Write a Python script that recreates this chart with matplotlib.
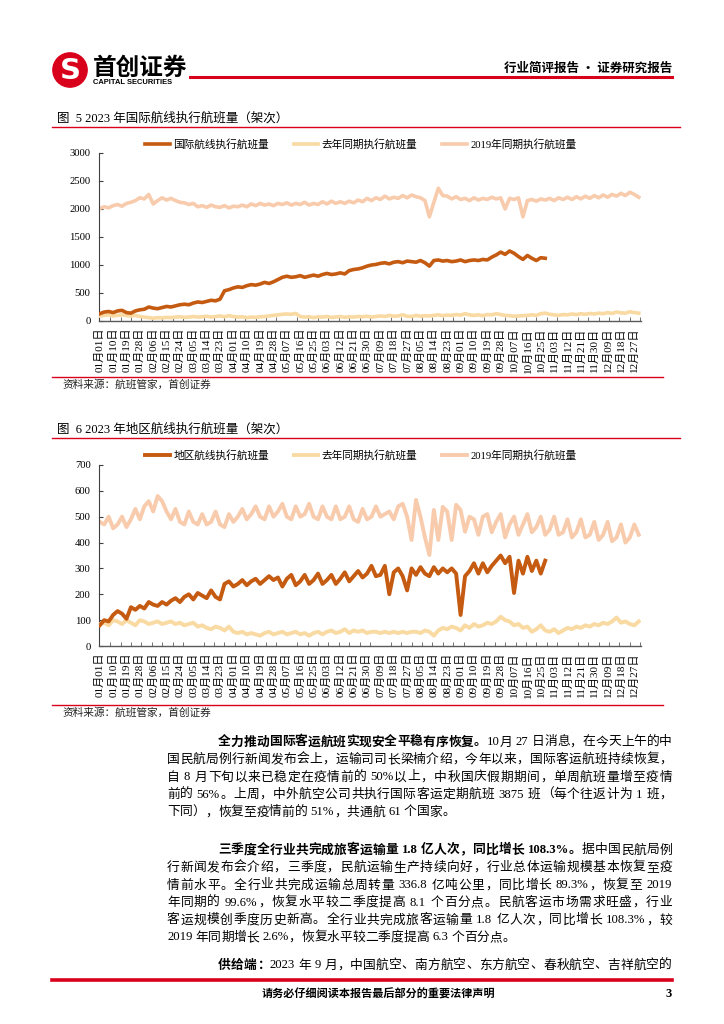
import re
import numpy as np
import pandas as pd
import matplotlib
matplotlib.use('Agg')
import matplotlib.pyplot as plt
from matplotlib.lines import Line2D
from matplotlib.patches import Circle

# ---- data ----
# sample every third day of the year, day 0 = 01月01日
days_full = np.arange(0, 364, 3)
days_2023 = np.arange(0, 301, 3)

# chart 5: international routes (flights)
intl_2023 = [130, 160, 170, 150, 180, 190, 150, 140, 180, 200,
             210, 250, 230, 220, 240, 260, 250, 270, 290, 300,
             290, 320, 340, 330, 350, 370, 360, 390, 540, 560,
             590, 610, 600, 630, 650, 640, 660, 690, 670, 700,
             740, 780, 800, 780, 790, 810, 780, 800, 820, 800,
             830, 850, 830, 840, 860, 840, 900, 920, 930, 950,
             980, 1000, 1010, 1030, 1040, 1020, 1050, 1060, 1040, 1070,
             1060, 1050, 1080, 1040, 980, 1080, 1090, 1070, 1080, 1060,
             1070, 1090, 1060, 1080, 1090, 1080, 1100, 1090, 1140, 1180,
             1230, 1190, 1250, 1210, 1150, 1100, 1170, 1120, 1080, 1130,
             1120]
intl_last = [90, 100, 110, 90, 100, 110, 95, 90, 100, 80,
             70, 60, 50, 60, 55, 65, 60, 70, 75, 65,
             70, 80, 70, 75, 85, 70, 80, 90, 75, 95,
             80, 70, 75, 60, 70, 65, 75, 80, 90, 100,
             110, 120, 125, 120, 135, 80, 70, 75, 60, 75,
             70, 80, 65, 70, 80, 65, 75, 70, 80, 75,
             85, 70, 80, 90, 80, 100, 85, 90, 110, 85,
             80, 100, 85, 95, 90, 100, 110, 95, 105, 100,
             115, 105, 130, 110, 100, 110, 95, 115, 110, 130,
             115, 100, 95, 85, 90, 95, 100, 110, 100, 130,
             140, 120, 110, 100, 115, 110, 125, 115, 130, 120,
             135, 125, 140, 130, 150, 135, 160, 145, 140, 165,
             150, 140]
intl_2019 = [2010, 2040, 2020, 2060, 2080, 2050, 2100, 2120, 2150, 2200,
             2180, 2260, 2090, 2150, 2200, 2160, 2190, 2150, 2120, 2110,
             2080, 2100, 2040, 2060, 2030, 2070, 2040, 2030, 2060, 2020,
             2050, 2040, 2070, 2040, 2090, 2060, 2100, 2070, 2090, 2060,
             2100, 2080, 2110, 2070, 2100, 2080, 2120, 2070, 2100, 2080,
             2130, 2090, 2140, 2100, 2130, 2100, 2140, 2110, 2160, 2130,
             2190, 2150, 2200, 2170, 2230, 2180, 2210, 2190, 2240, 2200,
             2250, 2220, 2200, 2150, 1860, 2120, 2370, 2240, 2230, 2180,
             2220, 2170, 2190, 2150, 2200, 2160, 2190, 2170, 2210, 2180,
             2200, 2000, 2190, 2170, 2200, 1860, 2150, 2170, 2140, 2180,
             2160, 2190, 2150, 2200, 2170, 2210, 2170, 2220, 2180, 2230,
             2190, 2240, 2200, 2250, 2210, 2260, 2230, 2280, 2240, 2300,
             2260, 2210]

# chart 6: regional routes (flights)
reg_2023 = [80, 100, 95, 120, 135, 125, 105, 150, 140, 155,
            145, 170, 160, 155, 170, 160, 175, 185, 170, 190,
            200, 180, 205, 195, 185, 215, 190, 180, 240, 250,
            230, 240, 255, 235, 250, 260, 240, 255, 270, 255,
            265, 230, 260, 275, 235, 250, 275, 240, 255, 280,
            240, 255, 275, 240, 260, 285, 250, 270, 290, 265,
            280, 310, 270, 275, 310, 200, 285, 300, 270, 215,
            300, 275, 305, 280, 270, 305, 280, 300, 285, 300,
            280, 120, 270, 290, 320, 280, 320, 285, 310, 330,
            350, 320, 345, 205, 330, 280, 345, 290, 330, 280,
            330]
reg_last = [85, 90, 80, 100, 95, 85, 100, 90, 80, 100,
            95, 85, 90, 95, 85, 90, 95, 85, 90, 80,
            85, 90, 75, 80, 70, 65, 75, 70, 60, 75,
            55, 50, 55, 45, 50, 45, 40, 50, 55, 45,
            50, 55, 45, 50, 55, 45, 50, 40, 50, 55,
            45, 55, 60, 50, 55, 65, 50, 60, 55, 60,
            50, 55, 55, 50, 55, 50, 55, 50, 55, 50,
            55, 55, 50, 60, 55, 40, 60, 70, 65, 75,
            70, 60, 80, 70, 85, 75, 80, 90, 85, 95,
            113, 100, 95, 80, 85, 70, 75, 55, 65, 80,
            60, 55, 65, 50, 60, 70, 65, 75, 70, 80,
            75, 85, 80, 90, 85, 95, 110, 90, 95, 85,
            80, 95]
reg_2019 = [480, 470, 500, 455, 470, 500, 460, 490, 530, 490,
            540, 560, 520, 580, 560, 520, 490, 530, 480, 470,
            520, 480, 470, 510, 470, 480, 520, 470, 460, 510,
            480, 500, 530, 490, 510, 540, 500, 490, 540, 500,
            520, 550, 500, 490, 540, 500, 510, 550, 500, 490,
            540, 500, 490, 540, 490, 500, 540, 490, 480, 530,
            490, 500, 540, 500, 510, 520, 490, 540, 550, 500,
            410, 565, 500, 420, 352, 526, 410, 538, 520, 410,
            546, 526, 442, 500, 490, 430, 500, 510, 440, 480,
            510, 420, 470, 500, 430, 470, 510, 440, 460, 500,
            430, 450, 500, 430, 440, 490, 420, 440, 490, 420,
            430, 480, 410, 430, 480, 405, 420, 470, 400, 420,
            470, 430]

# x tick labels every 9 days
label_days = np.arange(0, 361, 9)
label_text = [d.strftime('%m月%d日') for d in
              pd.Timestamp('2023-01-01') + pd.to_timedelta(label_days, unit='D')]

names_intl = ['国际航线执行航班量', '去年同期执行航班量', '2019年同期执行航班量']
names_reg = ['地区航线执行航班量', '去年同期执行航班量', '2019年同期执行航班量']

# ---- page ----
W, H = 724, 1024
fig = plt.figure(figsize=(W / 100, H / 100), dpi=100)
renderer = fig.canvas.get_renderer()

def fx(px):
    return px / W

def fy(py):
    return 1 - py / H

RED = '#D9001B'
CN = ['Noto Sans CJK SC', 'DejaVu Sans']
SERIF = ['Liberation Serif', 'Noto Sans CJK SC']
C2023, CLAST, C2019 = '#C55A11', '#F9DAA2', '#F8CBAD'


def hline(y, x0, x1, lw=1.0, color=RED):
    fig.add_artist(Line2D([fx(x0), fx(x1)], [fy(y), fy(y)],
                          transform=fig.transFigure, color=color, lw=lw))


# header
logo = fig.add_axes([fx(52), fy(88), fx(36), 36 / H])
logo.set_xlim(-1.05, 1.05)
logo.set_ylim(-1.05, 1.05)
logo.set_aspect('equal')
logo.axis('off')
logo.add_patch(Circle((0, 0), 1, color=RED))
logo.text(0.02, -0.05, 'S', color='white', fontsize=21, fontweight='bold',
          ha='center', va='center', family='DejaVu Sans')

fig.text(fx(93), fy(68), '首创证券', fontsize=17, fontweight='bold', family=CN,
         va='center', ha='left')
fig.text(fx(93), fy(83), 'CAPITAL SECURITIES', fontsize=5.4, fontweight='bold',
         family='Liberation Sans', va='center', ha='left')
hline(77, 190, 672, lw=2.2)
fig.text(fx(672), fy(68), '行业简评报告 · 证券研究报告', fontsize=9, fontweight='bold',
         family=CN, va='center', ha='right')


def draw_chart(title, title_y, top, bottom, legend_y, ymax, ystep,
               s2023, slast, s2019, names, src_y, lw):
    fig.text(fx(57), fy(title_y), title, fontsize=9, family=SERIF,
             va='center', ha='left')
    hline(title_y + 9, 52, 680, lw=1.0)

    ax = fig.add_axes([fx(99), fy(bottom), fx(641) - fx(99), (bottom - top) / H])
    l1, = ax.plot(days_2023, s2023, color=C2023, lw=lw, zorder=4)
    l2, = ax.plot(days_full, slast, color=CLAST, lw=lw, zorder=3)
    l3, = ax.plot(days_full, s2019, color=C2019, lw=lw, zorder=2)

    ax.set_xlim(-0.5, 364.5)
    ax.set_ylim(0, ymax)
    ax.set_yticks(np.arange(0, ymax + 1, ystep))
    ax.set_xticks(label_days)
    ax.set_xticklabels(label_text, rotation=90, fontsize=8, family=SERIF)
    ax.set_xticks(np.arange(0, 365, 7), minor=True)
    ax.tick_params(axis='x', which='major', length=0, pad=5)
    ax.tick_params(axis='x', which='minor', length=3, direction='in', color='#595959')
    ax.tick_params(axis='y', direction='in', length=3, labelsize=7.7, pad=6,
                   color='#404040')
    for lbl in ax.get_yticklabels():
        lbl.set_family(SERIF)
    for side in ('top', 'right'):
        ax.spines[side].set_visible(False)
    ax.spines['left'].set_color('#404040')
    ax.spines['bottom'].set_color('#595959')
    ax.spines['bottom'].set_linewidth(1.0)

    ax.legend([l1, l2, l3], names, ncol=3, loc='center left',
              bbox_to_anchor=(fx(145), fy(legend_y)), bbox_transform=fig.transFigure,
              frameon=False, borderpad=0, borderaxespad=0, handlelength=2.3,
              handletextpad=0.35, columnspacing=2.3,
              prop={'family': SERIF, 'size': 7.7})

    hline(src_y - 8, 52, 663, lw=1.0)
    fig.text(fx(62), fy(src_y), '资料来源：航班管家，首创证券', fontsize=7.7,
             family=CN, va='center', ha='left', color='#222222')
    return ax


draw_chart('图  5 2023 年国际航线执行航班量（架次）', 118, 153, 321, 144, 3000, 500,
           intl_2023, intl_last, intl_2019, names_intl, 385, 2.6)
draw_chart('图  6 2023 年地区航线执行航班量（架次）', 429, 465, 646, 455, 700, 100,
           reg_2023, reg_last, reg_2019, names_reg, 713, 2.8)

# ---- body text, justified line by line ----
TOK = re.compile(r'[0-9A-Za-z.%]+| +|.')
LATIN = re.compile(r'[0-9A-Za-z.%]+')
BODY = 9.2


def text_line(segments, y, x0, x1=None):
    items = []
    for s, bold in segments:
        for tok in TOK.findall(s):
            if tok.strip() == '':
                items.append((None, BODY * 100 / 72 * 0.25))
                continue
            fam = 'Liberation Serif' if LATIN.fullmatch(tok) else 'Noto Sans CJK SC'
            t = fig.text(fx(x0), fy(y), tok, fontsize=BODY, family=fam,
                         fontweight='bold' if bold else 'normal',
                         va='center', ha='left')
            items.append((t, t.get_window_extent(renderer).width))
    total = sum(w for _, w in items)
    gap = 0.0
    if x1 is not None and len(items) > 1:
        gap = (x1 - x0 - total) / (len(items) - 1)
    x = x0
    for t, w in items:
        if t is not None:
            t.set_x(fx(x))
        x += w + gap


LEFT, INDENT, RIGHT = 167, 218, 672
LS = 17.5

p1 = [
    [('全力推动国际客运航班实现安全平稳有序恢复。', True), ('10月 27 日消息，在今天上午的中', False)],
    [('国民航局例行新闻发布会上，运输司司长梁楠介绍，今年以来，国际客运航班持续恢复，', False)],
    [('自 8 月下旬以来已稳定在疫情前的 50%以上，中秋国庆假期期间，单周航班量增至疫情', False)],
    [('前的 56%。上周，中外航空公司共执行国际客运定期航班 3875 班（每个往返计为 1 班，', False)],
    [('下同），恢复至疫情前的 51%，共通航 61 个国家。', False)],
]
p2 = [
    [('三季度全行业共完成旅客运输量 1.8 亿人次，同比增长 108.3%。', True), ('据中国民航局例', False)],
    [('行新闻发布会介绍，三季度，民航运输生产持续向好，行业总体运输规模基本恢复至疫', False)],
    [('情前水平。全行业共完成运输总周转量 336.8 亿吨公里，同比增长 89.3%，恢复至 2019', False)],
    [('年同期的 99.6%，恢复水平较二季度提高 8.1 个百分点。民航客运市场需求旺盛，行业', False)],
    [('客运规模创季度历史新高。全行业共完成旅客运输量 1.8 亿人次，同比增长 108.3%，较', False)],
    [('2019 年同期增长 2.6%，恢复水平较二季度提高 6.3 个百分点。', False)],
]
p3 = [
    [('供给端：', True), ('2023 年 9 月，中国航空、南方航空、东方航空、春秋航空、吉祥航空的', False)],
]

for para, y0 in ((p1, 742), (p2, 850), (p3, 965)):
    for i, segs in enumerate(para):
        x0 = INDENT if i == 0 else LEFT
        last = (i == len(para) - 1) and para is not p3
        text_line(segs, y0 + i * LS, x0, None if last else RIGHT)

# footer
hline(980, 52, 672, lw=2.6)
fig.text(fx(378), fy(994), '请务必仔细阅读本报告最后部分的重要法律声明', fontsize=8,
         fontweight='bold', family=CN, va='center', ha='center')
fig.text(fx(672), fy(994), '3', fontsize=9, fontweight='bold', family=SERIF,
         va='center', ha='right')

fig.savefig('out.png', dpi=100)
